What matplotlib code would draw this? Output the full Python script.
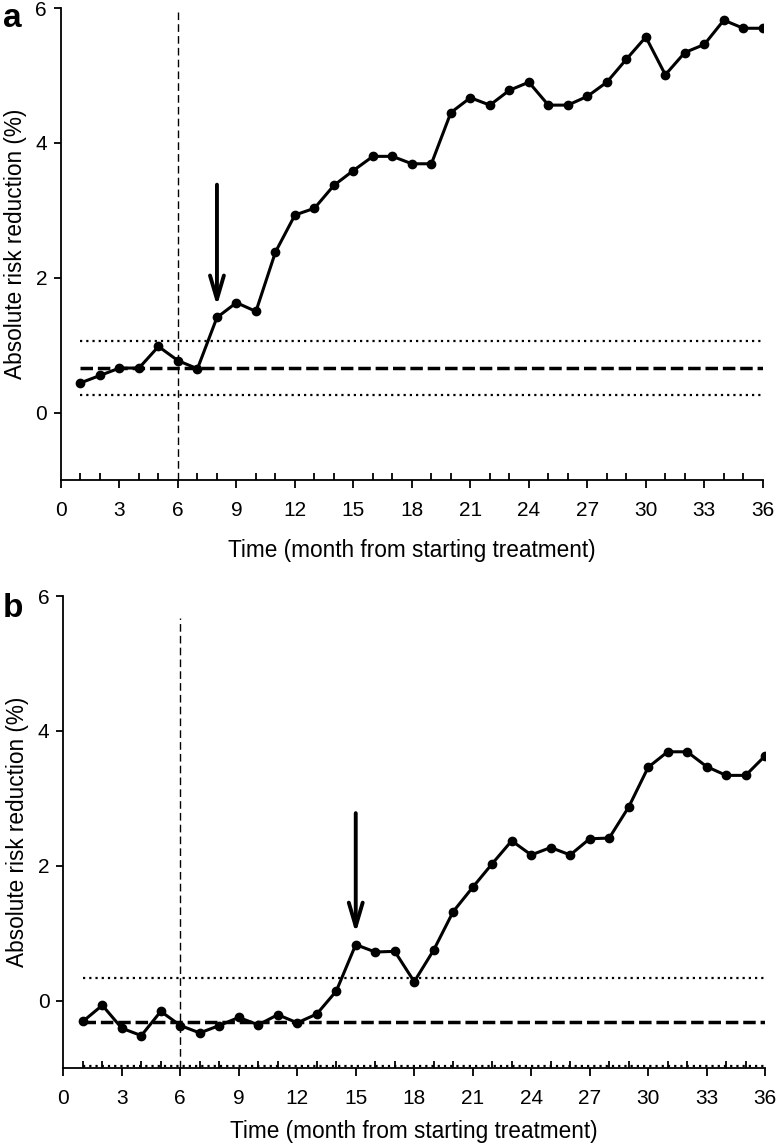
import numpy as np
import matplotlib.pyplot as plt
from matplotlib.ticker import MultipleLocator

plt.rcParams['font.family'] = ['Liberation Sans', 'DejaVu Sans']

months = np.arange(1, 37)

arr_a = [0.44, 0.55, 0.66, 0.66, 0.98, 0.77, 0.65, 1.41, 1.63, 1.50,
         2.38, 2.93, 3.03, 3.37, 3.59, 3.80, 3.80, 3.69, 3.69, 4.45,
         4.67, 4.56, 4.78, 4.90, 4.56, 4.56, 4.69, 4.90, 5.24, 5.57,
         5.01, 5.34, 5.46, 5.82, 5.70, 5.70]
arr_b = [-0.31, -0.07, -0.41, -0.52, -0.16, -0.37, -0.48, -0.37, -0.25, -0.36,
         -0.21, -0.33, -0.20, 0.14, 0.83, 0.72, 0.73, 0.28, 0.75, 1.32,
         1.68, 2.03, 2.37, 2.16, 2.27, 2.16, 2.40, 2.41, 2.87, 3.46,
         3.69, 3.69, 3.47, 3.34, 3.34, 3.63]

# baseline mean and limits (mean, upper, lower)
base_a = [0.667, 1.067, 0.257]
base_b = [-0.32, 0.34, -0.97]
# arrows: month, start, tip
arrow_a = [8, 3.38, 1.58]
arrow_b = [15, 2.78, 1.00]
vline_top = [5.94, 5.68]

fig = plt.figure(figsize=(7.76, 11.48), dpi=100)
ax_a = fig.add_axes([0.0786, 0.5819, 0.9044, 0.4111])
ax_b = fig.add_axes([0.0816, 0.0697, 0.9044, 0.4111])


def draw_panel(ax, vals, base, arrow, vtop, xpad):
    ax.plot(months, vals, color='black', lw=2.2, marker='o', ms=6, zorder=5)
    ax.plot([1, 36], [base[0], base[0]], color='black', lw=2.5,
            linestyle=(0, (3.6, 1.4)))
    ax.plot([1, 36], [base[1], base[1]], color='black', lw=1.6,
            linestyle=(0, (1, 1.8)))
    ax.plot([1, 36], [base[2], base[2]], color='black', lw=1.6,
            linestyle=(0, (1, 1.8)))
    ax.plot([6, 6], [-1, vtop], color='black', lw=1.0,
            linestyle=(0, (5.5, 3)))
    ax.annotate('', xy=(arrow[0], arrow[2]), xytext=(arrow[0], arrow[1]),
                arrowprops=dict(arrowstyle='->, head_length=1.7, head_width=0.5',
                                lw=2.8, color='black', shrinkA=0, shrinkB=0))
    ax.set_xlim(0, 36)
    ax.set_ylim(-1, 6)
    ax.set_yticks([0, 2, 4, 6])
    ax.xaxis.set_major_locator(MultipleLocator(3))
    ax.xaxis.set_minor_locator(MultipleLocator(1))
    ax.tick_params(axis='x', which='major', direction='out', length=6,
                   width=1.3, labelsize=15, pad=9)
    ax.tick_params(axis='x', which='minor', direction='in', length=5, width=1.3)
    ax.tick_params(axis='y', which='major', direction='out', length=5,
                   width=1.3, labelsize=15, pad=5)
    for s in ['top', 'right']:
        ax.spines[s].set_visible(False)
    for s in ['left', 'bottom']:
        ax.spines[s].set_linewidth(1.3)
    ax.set_xlabel('Time (month from starting treatment)', fontsize=16.3, labelpad=xpad)
    ax.set_ylabel('Absolute risk reduction (%)', fontsize=16.3, labelpad=6)


draw_panel(ax_a, arr_a, base_a, arrow_a, vline_top[0], 14)
draw_panel(ax_b, arr_b, base_b, arrow_b, vline_top[1], 9)

fig.text(3 / 776, 1 - 27 / 1148, 'a', fontsize=24, fontweight='bold',
         va='baseline', ha='left')
fig.text(3 / 776, 1 - 617 / 1148, 'b', fontsize=24, fontweight='bold',
         va='baseline', ha='left')

fig.savefig('out.png', dpi=100)
